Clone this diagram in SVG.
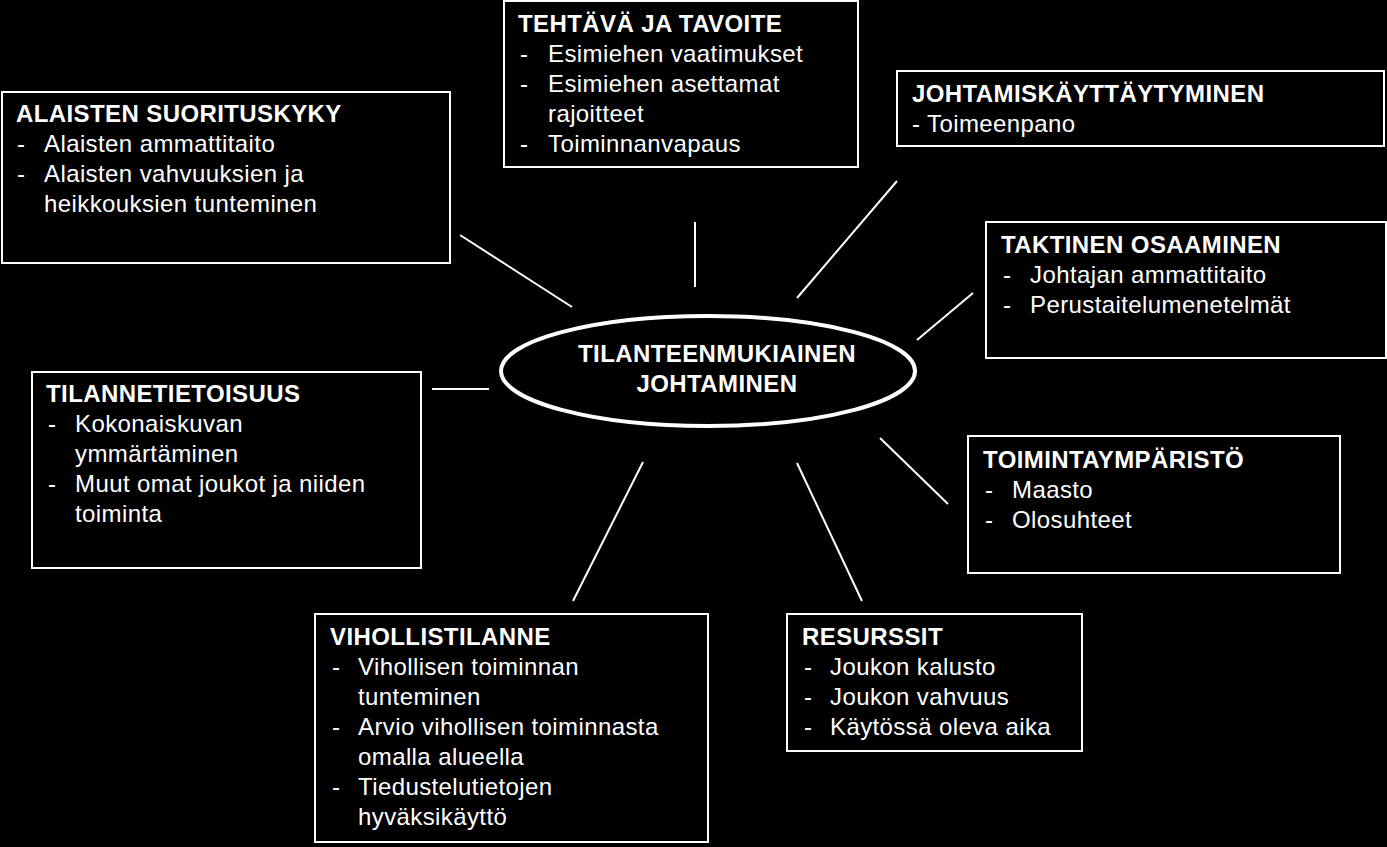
<svg xmlns="http://www.w3.org/2000/svg" width="1387" height="847" viewBox="0 0 1387 847">
<style>
rect{fill:#000;stroke:#fff;stroke-width:2}
text{font-family:"Liberation Sans",Arial,sans-serif;font-size:24px;letter-spacing:0.4px;fill:#fff}
.t{font-weight:bold}
line{stroke:#fff;stroke-width:2}
</style>
<rect x="0" y="0" width="1387" height="847" style="stroke:none"/>
<g id="connectors">
<line x1="460" y1="235" x2="572" y2="307"/>
<line x1="695" y1="222" x2="695" y2="287"/>
<line x1="897" y1="181" x2="797" y2="298"/>
<line x1="973" y1="293" x2="917" y2="340"/>
<line x1="432" y1="389" x2="489" y2="389"/>
<line x1="880" y1="438" x2="948" y2="504"/>
<line x1="643" y1="462" x2="573" y2="601"/>
<line x1="797" y1="463" x2="862" y2="601"/>
</g>
<g id="center">
<ellipse cx="708" cy="371" rx="207" ry="55" fill="#000" stroke="#fff" stroke-width="4"/>
<text class="t" x="717" y="362" text-anchor="middle">TILANTEENMUKIAINEN</text>
<text class="t" x="717" y="392" text-anchor="middle">JOHTAMINEN</text>
</g>
<g id="n1">
<rect x="2" y="92" width="448" height="171"/>
<text class="t" x="16" y="122">ALAISTEN SUORITUSKYKY</text>
<text x="17" y="152">-</text><text x="44" y="152">Alaisten ammattitaito</text>
<text x="17" y="182">-</text><text x="44" y="182">Alaisten vahvuuksien ja</text>
<text x="44" y="212">heikkouksien tunteminen</text>
</g>
<g id="n2">
<rect x="504" y="1" width="354" height="166"/>
<text class="t" x="518" y="32">TEHTÄVÄ JA TAVOITE</text>
<text x="520" y="62">-</text><text x="548" y="62">Esimiehen vaatimukset</text>
<text x="520" y="92">-</text><text x="548" y="92">Esimiehen asettamat</text>
<text x="548" y="122">rajoitteet</text>
<text x="520" y="152">-</text><text x="548" y="152">Toiminnanvapaus</text>
</g>
<g id="n3">
<rect x="897" y="71" width="487" height="75"/>
<text class="t" x="912" y="102">JOHTAMISKÄYTTÄYTYMINEN</text>
<text x="912" y="132">- Toimeenpano</text>
</g>
<g id="n4">
<rect x="986" y="222" width="400" height="136"/>
<text class="t" x="1001" y="253">TAKTINEN OSAAMINEN</text>
<text x="1003" y="283">-</text><text x="1030" y="283">Johtajan ammattitaito</text>
<text x="1003" y="313">-</text><text x="1030" y="313">Perustaitelumenetelmät</text>
</g>
<g id="n5">
<rect x="32" y="372" width="389" height="196"/>
<text class="t" x="46" y="402">TILANNETIETOISUUS</text>
<text x="48" y="432">-</text><text x="75" y="432">Kokonaiskuvan</text>
<text x="75" y="462">ymmärtäminen</text>
<text x="48" y="492">-</text><text x="75" y="492">Muut omat joukot ja niiden</text>
<text x="75" y="522">toiminta</text>
</g>
<g id="n6">
<rect x="968" y="436" width="372" height="137"/>
<text class="t" x="983" y="468">TOIMINTAYMPÄRISTÖ</text>
<text x="985" y="498">-</text><text x="1012" y="498">Maasto</text>
<text x="985" y="528">-</text><text x="1012" y="528">Olosuhteet</text>
</g>
<g id="n7">
<rect x="315" y="614" width="393" height="228"/>
<text class="t" x="330" y="645">VIHOLLISTILANNE</text>
<text x="332" y="675">-</text><text x="358" y="675">Vihollisen toiminnan</text>
<text x="358" y="705">tunteminen</text>
<text x="332" y="735">-</text><text x="358" y="735">Arvio vihollisen toiminnasta</text>
<text x="358" y="765">omalla alueella</text>
<text x="332" y="795">-</text><text x="358" y="795">Tiedustelutietojen</text>
<text x="358" y="825">hyväksikäyttö</text>
</g>
<g id="n8">
<rect x="787" y="614" width="295" height="137"/>
<text class="t" x="802" y="645">RESURSSIT</text>
<text x="804" y="675">-</text><text x="830" y="675">Joukon kalusto</text>
<text x="804" y="705">-</text><text x="830" y="705">Joukon vahvuus</text>
<text x="804" y="735">-</text><text x="830" y="735">Käytössä oleva aika</text>
</g>
</svg>
